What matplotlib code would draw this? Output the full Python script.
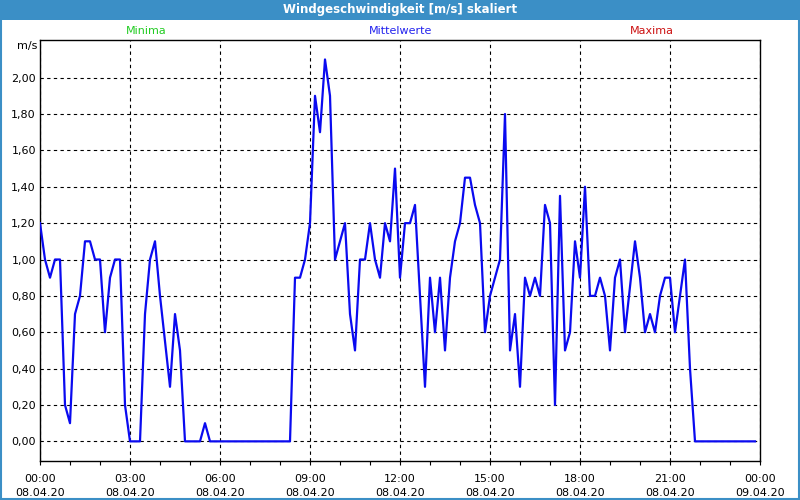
import numpy as np
import matplotlib.pyplot as plt
from matplotlib.ticker import FuncFormatter, MultipleLocator
from matplotlib.patches import Rectangle

# wind speed, 10 minute steps from 08.04.20 00:00
speed = [1.2, 1.0, 0.9, 1.0, 1.0, 0.2, 0.1, 0.7, 0.8, 1.1, 1.1, 1.0,
         1.0, 0.6, 0.9, 1.0, 1.0, 0.2, 0.0, 0.0, 0.0, 0.7, 1.0, 1.1,
         0.8, 0.55, 0.3, 0.7, 0.5, 0.0, 0.0, 0.0, 0.0, 0.1, 0.0, 0.0,
         0.0, 0.0, 0.0, 0.0, 0.0, 0.0, 0.0, 0.0, 0.0, 0.0, 0.0, 0.0,
         0.0, 0.0, 0.0, 0.9, 0.9, 1.0, 1.2, 1.9, 1.7, 2.1, 1.9, 1.0,
         1.1, 1.2, 0.7, 0.5, 1.0, 1.0, 1.2, 1.0, 0.9, 1.2, 1.1, 1.5,
         0.9, 1.2, 1.2, 1.3, 0.8, 0.3, 0.9, 0.6, 0.9, 0.5, 0.9, 1.1,
         1.2, 1.45, 1.45, 1.3, 1.2, 0.6, 0.8, 0.9, 1.0, 1.8, 0.5, 0.7,
         0.3, 0.9, 0.8, 0.9, 0.8, 1.3, 1.2, 0.2, 1.35, 0.5, 0.6, 1.1,
         0.9, 1.4, 0.8, 0.8, 0.9, 0.8, 0.5, 0.9, 1.0, 0.6, 0.85, 1.1,
         0.9, 0.6, 0.7, 0.6, 0.8, 0.9, 0.9, 0.6, 0.8, 1.0, 0.4, 0.0,
         0.0, 0.0, 0.0, 0.0, 0.0, 0.0, 0.0, 0.0, 0.0, 0.0, 0.0, 0.0]
hours = np.arange(len(speed)) / 6.0

tick_hours = [0, 3, 6, 9, 12, 15, 18, 21, 24]
tick_labels = ["00:00\n08.04.20", "03:00\n08.04.20", "06:00\n08.04.20",
               "09:00\n08.04.20", "12:00\n08.04.20", "15:00\n08.04.20",
               "18:00\n08.04.20", "21:00\n08.04.20", "00:00\n09.04.20"]

title = "Windgeschwindigkeit [m/s] skaliert"
legend_items = [("Minima", "#22cc22"), ("Mittelwerte", "#2222ee"), ("Maxima", "#cc1111")]

plt.rcParams['font.family'] = ['DejaVu Sans']
fig = plt.figure(figsize=(8, 5), dpi=100)
fig.patch.set_facecolor("white")

# title bar and frame
fig.patches.append(Rectangle((0, 0.96), 1, 0.04, transform=fig.transFigure,
                             facecolor="#3b8fc6", edgecolor="none", zorder=0))
fig.patches.append(Rectangle((0.001, 0.002), 0.998, 0.996, transform=fig.transFigure,
                             facecolor="none", edgecolor="#3b8fc6", linewidth=1.5, zorder=5))
fig.text(0.5, 0.981, title, color="white", fontsize=8.5, fontweight="bold",
         ha="center", va="center")

ax = fig.add_axes([0.05, 0.078, 0.90, 0.842])
ax.plot(hours, speed, color="#0a0af0", linewidth=1.6, zorder=3)

ax.set_xlim(0, 24)
ax.set_ylim(-0.108, 2.207)
ax.set_yticks(np.arange(0, 2.01, 0.2))
ax.yaxis.set_major_formatter(FuncFormatter(lambda v, p: f"{v:.2f}".replace(".", ",")))
ax.set_xticks(tick_hours)
ax.set_xticklabels(tick_labels, linespacing=1.6)
ax.xaxis.set_minor_locator(MultipleLocator(1))

ax.tick_params(axis="y", length=0, pad=3, labelsize=8)
ax.tick_params(axis="x", which="both", direction="out", length=3, width=0.8,
               pad=6, labelsize=8)
ax.grid(True, which="major", color="black", linestyle=(0, (3, 3)), linewidth=0.8)
for s in ax.spines.values():
    s.set_linewidth(1.0)
    s.set_color("black")

fig.text(27.5 / 800, 1 - 46 / 500, "m/s", fontsize=8, ha="center", va="center")
for (name, col), xc in zip(legend_items, [146, 401, 652]):
    fig.text(xc / 800, 1 - 31 / 500, name, color=col, fontsize=8, ha="center", va="center")

fig.savefig("out.png", dpi=100)
